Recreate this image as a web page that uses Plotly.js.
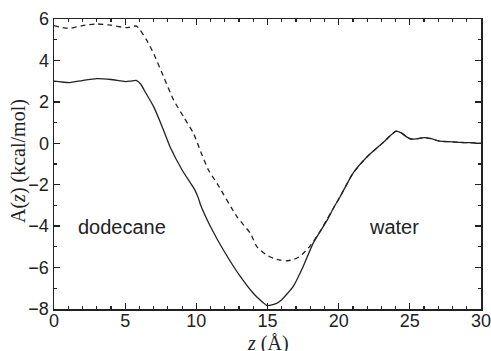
<!DOCTYPE html>
<html>
<head>
<meta charset="utf-8">
<script src="https://cdn.plot.ly/plotly-3.0.1.min.js"></script>
<style>html,body{margin:0;padding:0;background:#fff;}#chart{width:491px;height:351px;}</style>
</head>
<body>
<div id="chart"></div>
<script>
// Solid curve: A(z) (kcal/mol) vs z (Å)
const zSolid = [0, 0.5, 1.1, 2, 3, 4, 5, 5.4, 5.8, 6.1, 6.4, 7.0, 7.6, 8.15, 9.0, 9.9, 10.15, 10.3, 11.0, 11.9, 13.1, 14.0, 14.5, 15.0, 15.6, 16.0, 16.8, 17.5, 18.2, 19.2, 19.6, 20.1, 21.0, 22.0, 22.8, 23.2, 23.6, 24.0, 24.4, 24.8, 25.1, 25.5, 26.0, 26.5, 27.1, 28.0, 28.5, 29.2, 30];
const aSolid = [3.0, 2.96, 2.93, 3.03, 3.12, 3.08, 2.98, 3.0, 3.03, 2.85, 2.49, 1.77, 0.80, -0.17, -1.29, -2.26, -2.66, -2.98, -4.03, -5.15, -6.44, -7.24, -7.58, -7.84, -7.74, -7.55, -6.92, -5.96, -4.83, -3.70, -3.17, -2.58, -1.45, -0.65, -0.16, 0.08, 0.35, 0.58, 0.5, 0.3, 0.2, 0.22, 0.27, 0.22, 0.1, 0.07, 0.04, 0.03, 0.0];
// Dashed curve
const zDashed = [0, 0.5, 1.1, 2, 3, 4, 5.1, 5.8, 6.05, 6.5, 7.0, 7.7, 8.4, 9.1, 9.8, 10.35, 10.85, 11.45, 12.85, 13.8, 14.25, 14.95, 15.4, 15.9, 16.3, 16.8, 17.3, 18.0, 18.7, 19.2, 19.6, 20.1, 21.0, 22.0, 22.8, 23.2, 23.6, 24.0, 24.4, 24.8, 25.1, 25.5, 26.0, 26.5, 27.1, 28.0, 28.5, 29.2, 30];
const aDashed = [5.68, 5.6, 5.55, 5.68, 5.76, 5.7, 5.58, 5.66, 5.47, 4.99, 4.34, 3.21, 2.09, 1.28, 0.48, -0.48, -1.29, -1.93, -3.54, -4.35, -4.99, -5.40, -5.55, -5.64, -5.68, -5.62, -5.45, -4.95, -4.25, -3.65, -3.17, -2.58, -1.45, -0.65, -0.16, 0.08, 0.35, 0.58, 0.5, 0.3, 0.2, 0.22, 0.27, 0.22, 0.1, 0.07, 0.04, 0.03, 0.0];
// Region labels
const labelText = ["dodecane", "water"];
const labelZ = [4.75, 23.9];
const labelA = [-4.03, -4.06];
const xTitle = "<i>z</i> (Å)";
const yTitle = "A(<i>z</i>) (kcal/mol)";
const zRange = [0, 30];
const aRange = [-8, 6];

const sans = "Liberation Sans, Arial, Helvetica, sans-serif";
const serif = "Liberation Serif, Times New Roman, serif";
const ink = "#222";

const traces = [
  {x: zSolid, y: aSolid, mode: "lines", line: {color: ink, width: 1.3, shape: "spline", smoothing: 0.5}, hoverinfo: "skip"},
  {x: zDashed, y: aDashed, mode: "lines", line: {color: ink, width: 1.3, dash: "5px,4px", shape: "spline", smoothing: 0.5}, hoverinfo: "skip"},
  // invisible trace that brings the mirrored tick axes (top/right) into existence
  {x: zRange, y: aRange, xaxis: "x2", yaxis: "y2", mode: "markers", marker: {opacity: 0, size: 1}, hoverinfo: "skip"}
];

function minorTicks() { return {dtick: 1, ticks: "inside", ticklen: 3, tickcolor: ink, tickwidth: 1.2}; }
function axisCommon() {
  return {
    showline: true, linecolor: ink, linewidth: 1.5, mirror: true,
    ticks: "inside", ticklen: 6, tickwidth: 1.3, tickcolor: ink,
    showgrid: false, zeroline: false, ticklabeloverflow: "allow",
    tickfont: {family: sans, size: 18, color: ink}
  };
}

const layout = {
  width: 491, height: 351,
  margin: {l: 54, r: 10, t: 19, b: 42},
  paper_bgcolor: "#fff", plot_bgcolor: "#fff",
  showlegend: false,
  xaxis: Object.assign(axisCommon(), {
    range: zRange, dtick: 5, tick0: 0, minor: minorTicks(), ticklabelstandoff: -5
  }),
  yaxis: Object.assign(axisCommon(), {
    range: aRange, dtick: 2, tick0: 0, minor: minorTicks()
  }),
  xaxis2: {
    overlaying: "x", side: "top", anchor: "y2", range: zRange, dtick: 5, tick0: 0,
    ticks: "inside", ticklen: 6, tickwidth: 1.3, tickcolor: ink, minor: minorTicks(),
    showticklabels: false, showgrid: false, zeroline: false, showline: false
  },
  yaxis2: {
    overlaying: "y", side: "right", anchor: "x2", range: aRange, dtick: 2, tick0: 0,
    ticks: "inside", ticklen: 6, tickwidth: 1.3, tickcolor: ink, minor: minorTicks(),
    showticklabels: false, showgrid: false, zeroline: false, showline: false
  },
  annotations: labelText.map((t, i) => ({
    x: labelZ[i], y: labelA[i], xref: "x", yref: "y", text: t, showarrow: false,
    font: {family: sans, size: 20, color: ink}
  })).concat([
    {x: 0.5, y: 0, xref: "paper", yref: "paper", xanchor: "center", yanchor: "top", yshift: -21,
     text: xTitle, showarrow: false, font: {family: serif, size: 20, color: ink}},
    {x: 0, y: 0.5, xref: "paper", yref: "paper", xanchor: "center", yanchor: "middle", xshift: -36, yshift: 3,
     textangle: -90, text: yTitle, showarrow: false, font: {family: serif, size: 20, color: ink}}
  ])
};

Plotly.newPlot("chart", traces, layout, {staticPlot: true, displayModeBar: false});
</script>
</body>
</html>
